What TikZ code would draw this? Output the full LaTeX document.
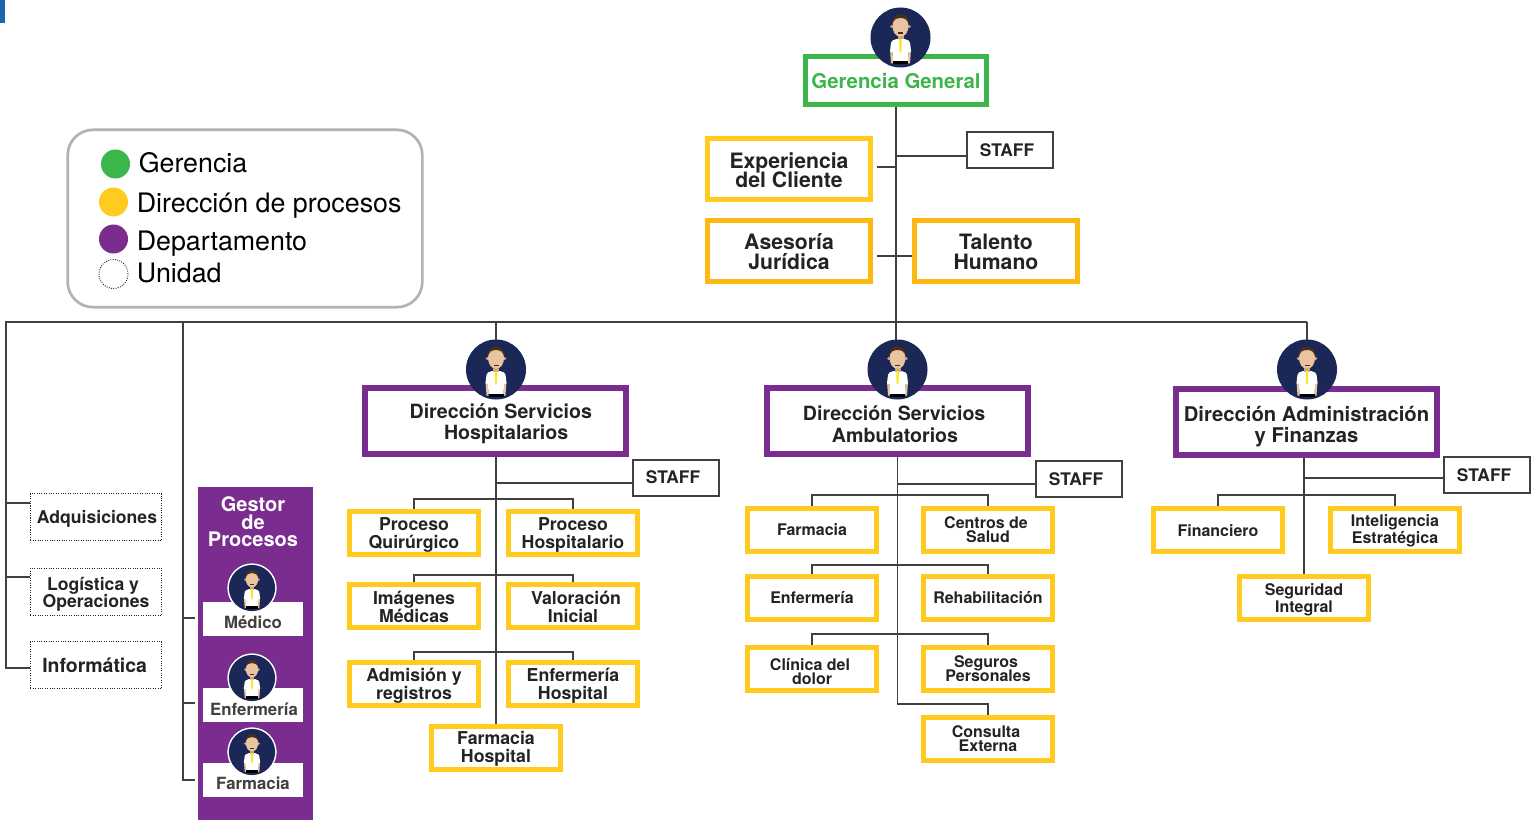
\documentclass[tikz,border=0pt]{standalone}
\usepackage{fontspec}
\setmainfont{TeX Gyre Heros}
\usetikzlibrary{positioning}
\definecolor{gerGreen}{HTML}{3CB64B}
\definecolor{dirYellow}{HTML}{FFCB1F}
\definecolor{dirOrange}{HTML}{FDB813}
\definecolor{depPurple}{HTML}{7B2D8F}
\definecolor{navy}{HTML}{1B2756}
\definecolor{skin}{HTML}{E9C4A0}
\definecolor{hair}{HTML}{4A2E1C}
\definecolor{ink}{HTML}{232323}
\definecolor{lineGray}{HTML}{404040}
\definecolor{markBlue}{HTML}{1A66B2}
\newcommand{\boxfont}[2]{\bfseries\fontsize{#1}{#2}\selectfont\lineskiplimit=-20pt\relax}
\def\dropamt{0pt}
\def\droplines{0}
\tikzset{
    drop/.code={\def\dropamt{#1}},
    rows/.code={\def\droplines{#1}},
    boxbase/.style={rectangle, inner sep=0pt, align=center, text=ink, execute at begin node={\rule{0pt}{\dimexpr.74em+\droplines\baselineskip+\dropamt\relax}}},
    gerbox/.style={boxbase, draw=gerGreen, line width=3.75pt, minimum width=135.75pt, minimum height=36pt, text=gerGreen, font=\boxfont{15.3}{15}, drop=1.5pt},
    staffbox/.style={boxbase, draw=lineGray, line width=1.5pt, minimum width=65pt, minimum height=27pt, font=\boxfont{13}{13}, execute at end node={\hspace*{4.5pt}}},
    advbox/.style={boxbase, draw=dirOrange, line width=3.75pt, minimum width=122.25pt, minimum height=45.75pt, font=\boxfont{15.9}{14.8}, rows=1, drop=1.5pt},
    dirbox/.style={boxbase, draw=depPurple, line width=4.5pt, minimum width=195.75pt, minimum height=49.5pt, font=\boxfont{14.7}{16.3}, rows=1},
    procbox/.style={boxbase, draw=dirYellow, line width=3.75pt, minimum width=96.75pt, minimum height=32.25pt, font=\boxfont{13.3}{13.4}, rows=1, drop=2.5pt},
    unitbox/.style={boxbase, draw=dirYellow, line width=3.75pt, minimum width=96.75pt, minimum height=32.25pt, font=\boxfont{12}{10.6}},
    dashbox/.style={boxbase, draw=ink, line width=0.8pt, densely dotted, minimum width=98.5pt, minimum height=35.25pt, font=\boxfont{13.2}{12.8}},
    bandbox/.style={boxbase, fill=white, minimum width=75pt, minimum height=25.5pt, text=lineGray, font=\boxfont{12.6}{13}},
    legdot/.style={circle, inner sep=0pt, minimum size=21.75pt},
    legtext/.style={anchor=base west, inner sep=0pt, text=black, font=\fontsize{20.1}{20}\selectfont},
    link/.style={draw=lineGray, line width=1.15pt},
    ringcolor/.store in=\ringcol, ringcolor=none,
    person/.pic={
        \coordinate (-top) at (0,-30);
        \path[fill=\ringcol] (0,0) circle (32);
        \fill[navy] (0,0) circle (30);
        \begin{scope}
            \clip (0,0) circle (30);
            \fill[skin] (-10.5,12) -- (-8,12) -- (-7.5,26) -- (-9.5,26) -- cycle;
            \fill[skin] (10.5,12) -- (8,12) -- (7.5,26) -- (9.5,26) -- cycle;
            \fill[white] (-4,1.5) -- (-8,3) .. controls (-9.5,4) .. (-10.5,14) -- (-8,14.5) -- (-7.5,24.5) -- (7.5,24.5) -- (8,14.5) -- (10.5,14) .. controls (9.5,4) .. (8,3) -- (4,1.5) -- cycle;
            \fill[black] (-7.5,24) rectangle (7.5,27);
            \fill[skin!85!black] (-3,-4) rectangle (3,2);
            \fill[yellow!85!orange!85!white] (-1.3,1.5) -- (1.3,1.5) -- (1.1,13) -- (0,15.5) -- (-1.1,13) -- cycle;
            \fill[skin!85!black] (-8.6,-11) circle (1.8);
            \fill[skin!85!black] (8.6,-11) circle (1.8);
            \fill[skin] (-8,-13) .. controls (-8,-23) and (8,-23) .. (8,-13) .. controls (8,-5) and (5,-1) .. (0,-1) .. controls (-5,-1) and (-8,-5) .. (-8,-13) -- cycle;
            \fill[hair] (-8.3,-12) .. controls (-10,-27) and (10,-27) .. (8.3,-12) .. controls (7.5,-18) and (4,-19.5) .. (0,-19.5) .. controls (-4,-19.5) and (-7.5,-18) .. (-8.3,-12) -- cycle;
            \fill[hair] (-2.5,-5) rectangle (2.5,-3.8);
        \end{scope}
    }
}

\begin{document}
\begin{tikzpicture}[x=0.75pt, y=-0.75pt]
    \useasboundingbox (0,0) rectangle (1540,820);
    \fill[markBlue] (0,0) rectangle (5,23);

    % Legend
    \node (legend) [rectangle, draw=gray!60, line width=2pt, rounded corners=19pt, minimum width=266pt, minimum height=133pt, inner sep=0pt] at (245,218.5) {};
    \node (dotGer) [legdot, fill=gerGreen] at (115.5,164) {};
    \node (dotDir) [legdot, fill=dirYellow] at (113.5,202) {};
    \node (dotDep) [legdot, fill=depPurple] at (113.5,239) {};
    \node (dotUni) [legdot, draw=ink, line width=0.7pt, densely dotted] at (113.5,274) {};
    \node (txtGer) [legtext] at (138.5,172) {Gerencia};
    \node (txtDir) [legtext] at (136.5,212) {Dirección de procesos};
    \node (txtDep) [legtext] at (136.5,250.5) {Departamento};
    \node (txtUni) [legtext] at (136.5,282) {Unidad};

    % Top of the chart
    \node (gerencia) [gerbox] at (896,80.5) {Gerencia General};
    \node (expCliente) [advbox, draw=dirYellow, font=\boxfont{15.9}{14.6}, drop=2.25pt] at (789,169) {Experiencia\\del Cliente};
    \node (asesoria) [advbox, below=12pt of expCliente] {Asesoría\\Jurídica};
    \node (talento) [advbox] at (996,251) {Talento\\Humano};
    \node (staffTop) [staffbox] at (1010,150) {STAFF};

    % Directions
    \node (dirHosp) [dirbox, drop=4.5pt] at (495.5,421) {\hspace*{8pt}Dirección Servicios\\\hspace*{16pt}Hospitalarios};
    \node (dirAmb) [dirbox, drop=5.25pt] at (897.5,421) {Dirección Servicios\hspace*{5pt}\\Ambulatorios\hspace*{3.75pt}};
    \node (dirAdm) [dirbox, font=\boxfont{15.2}{16}, drop=7.5pt] at (1306.5,422) {Dirección Administración\\y Finanzas};

    % Units on the left
    \node (adquis) [dashbox, drop=3pt] at (96,517) {\hspace*{1.5pt}Adquisiciones};
    \node (logist) [dashbox, rows=1, drop=3.75pt, below=20pt of adquis] {Logística y\hspace*{4.5pt}\\Operaciones};
    \node (inform) [dashbox, font=\boxfont{14.6}{15}, below=19pt of logist] {Informática\hspace*{2pt}};

    % Process managers
    \node (gestor) [rectangle, fill=depPurple, minimum width=86.25pt, minimum height=249.75pt, inner sep=0pt] at (255.5,653.5) {};
    \node (gestorTxt) [align=center, inner sep=0pt, text=white, font=\boxfont{15}{13.2}] at (253,522) {Gestor\\de\\Procesos};
    \node (medico) [bandbox, drop=4.5pt] at (253,619) {Médico};
    \node (enferm) [bandbox, drop=6pt] at (253,705) {\hspace*{1.5pt}Enfermería};
    \node (farmac) [bandbox, drop=4.5pt] at (253,780) {Farmacia};

    % Hospital services
    \node (staffHosp) [staffbox] at (676,477.5) {STAFF};
    \node (quirur) [procbox] at (414,533) {Proceso\\Quirúrgico};
    \node (hospit) [procbox, right=18.75pt of quirur] {Proceso\\Hospitalario};
    \node (imagen) [procbox, drop=1.5pt, below=18.75pt of quirur] {Imágenes\\Médicas};
    \node (valora) [procbox, drop=1.5pt, below=18.75pt of hospit] {\hspace*{4.5pt}Valoración\\Inicial};
    \node (admisi) [procbox, below=22.5pt of imagen] {Admisión y\\registros};
    \node (enfHosp) [procbox, below=22.5pt of valora] {Enfermería\\Hospital};
    \node (farmHosp) [procbox, drop=1.5pt] at (496,748) {Farmacia\\Hospital};

    % Outpatient services
    \node (staffAmb) [staffbox] at (1079,479) {STAFF};
    \node (farmAmb) [unitbox] at (812,530) {Farmacia};
    \node (centros) [unitbox, right=31.5pt of farmAmb] {Centros de\hspace*{3pt}\\Salud};
    \node (enfAmb) [unitbox, below=15pt of farmAmb] {Enfermería};
    \node (rehab) [unitbox, below=15pt of centros] {Rehabilitación};
    \node (clinica) [unitbox, rows=1, drop=3.75pt, below=17.25pt of enfAmb] {Clínica del\hspace*{3pt}\\dolor};
    \node (seguros) [unitbox, below=17.25pt of rehab] {Seguros\hspace*{3pt}\\Personales};
    \node (consulta) [unitbox, below=16.5pt of seguros] {Consulta\hspace*{3pt}\\Externa};

    % Administration and finance
    \node (staffAdm) [staffbox] at (1487,475) {STAFF};
    \node (financ) [unitbox, drop=1.5pt] at (1218,530) {Financiero};
    \node (intel) [unitbox, font=\boxfont{12}{12.8}, rows=1, drop=1.5pt, right=32.25pt of financ] {Inteligencia\\Estratégica};
    \node (segur) [unitbox, font=\boxfont{12}{12.8}, rows=1, drop=3pt] at (1304,598) {Seguridad\\Integral};

    % Free ends of the bus and of the branches
    \coordinate (busLeft) at (6,322);
    \coordinate (busDark) at (421,322);
    \coordinate (busB) at (183,322);
    \coordinate (busHosp) at (496,322);
    \coordinate (busAmb) at (896,322);
    \coordinate (busAdm) at (1307,322);
    \coordinate (medTick) at (195,618);
    \coordinate (enfTick) at (195,703);
    \coordinate (farTick) at (195,780);
    \coordinate (staffTopIn) at ([yshift=-4.5pt]staffTop.west);
    \coordinate (staffHospIn) at ([yshift=-4.1pt]staffHosp.west);
    \coordinate (staffAmbIn) at ([yshift=-3.75pt]staffAmb.west);
    \coordinate (staffAdmIn) at ([yshift=-2.25pt]staffAdm.west);
    \coordinate (expIn) at ([xshift=3pt, yshift=1.5pt]expCliente.east);
    \coordinate (asesIn) at ([xshift=3pt, yshift=-3.75pt]asesoria.east);
    \coordinate (adquisIn) at ([yshift=10.5pt]adquis.west);
    \coordinate (logistIn) at ([yshift=11.25pt]logist.west);
    \coordinate (informIn) at ([yshift=-2.25pt]inform.west);
    \coordinate (consIn) at ([yshift=8.25pt]consulta.north);

    % Connectors
    \draw [link] (gerencia.south) -- (busAmb);
    \draw [link] (gerencia.south |- staffTopIn) -- (staffTopIn);
    \draw [link] (gerencia.south |- expIn) -- (expIn);
    \draw [link] (asesIn) -- (asesIn -| talento.west);
    \draw [link, line width=1.4pt] (informIn) -| (busLeft) -- (busDark);
    \draw [link] (busDark) -- (busAdm);
    \draw [link, line width=1.4pt] (busLeft |- adquisIn) -- (adquisIn);
    \draw [link, line width=1.4pt] (busLeft |- logistIn) -- (logistIn);
    \draw [link] (busB) |- (farTick);
    \draw [link, line width=1.4pt] (busB |- medTick) -- (medTick);
    \draw [link, line width=1.4pt] (busB |- enfTick) -- (enfTick);

    % Hospital branches
    \draw [link] (dirHosp.south -| farmHosp.north) -- (farmHosp.north);
    \draw [link] (farmHosp.north |- staffHospIn) -- (staffHospIn);
    \draw [link] (quirur.north) -- ++(0,-10) -| (hospit.north);
    \draw [link] (imagen.north) -- ++(0,-7) -| (valora.north);
    \draw [link] (admisi.north) -- ++(0,-8) -| (enfHosp.north);

    % Outpatient branches
    \draw [link] (dirAmb.south) |- (consIn) -- (consulta.north);
    \draw [link] (dirAmb.south |- staffAmbIn) -- (staffAmbIn);
    \draw [link] (farmAmb.north) -- ++(0,-11) -| (centros.north);
    \draw [link] (enfAmb.north) -- ++(0,-9) -| (rehab.north);
    \draw [link] (clinica.north) -- ++(0,-11) -| (seguros.north);

    % Administration branches
    \draw [link] (dirAdm.south -| segur.north) -- (segur.north);
    \draw [link] (segur.north |- staffAdmIn) -- (staffAdmIn);
    \draw [link] (financ.north) -- ++(0,-11) -| (intel.north);

    % People
    \pic (iconTop) at (900.5,37.5) {person};
    \pic (iconHosp) at (496,369.5) {person};
    \pic (iconAmb) at (897.5,369.5) {person};
    \pic (iconAdm) at (1307,369.5) {person};
    \pic (iconMed) [scale=0.77, ringcolor=white] at (252,588) {person};
    \pic (iconEnf) [scale=0.77, ringcolor=white] at (252,678) {person};
    \pic (iconFar) [scale=0.77, ringcolor=white] at (252,752) {person};
    \draw [link] (busHosp) -- (iconHosp-top);
    \draw [link] (busAdm) -- (iconAdm-top);
    \draw [link] (busAmb) -- (busAmb |- iconAmb-top);

\end{tikzpicture}
\end{document}
